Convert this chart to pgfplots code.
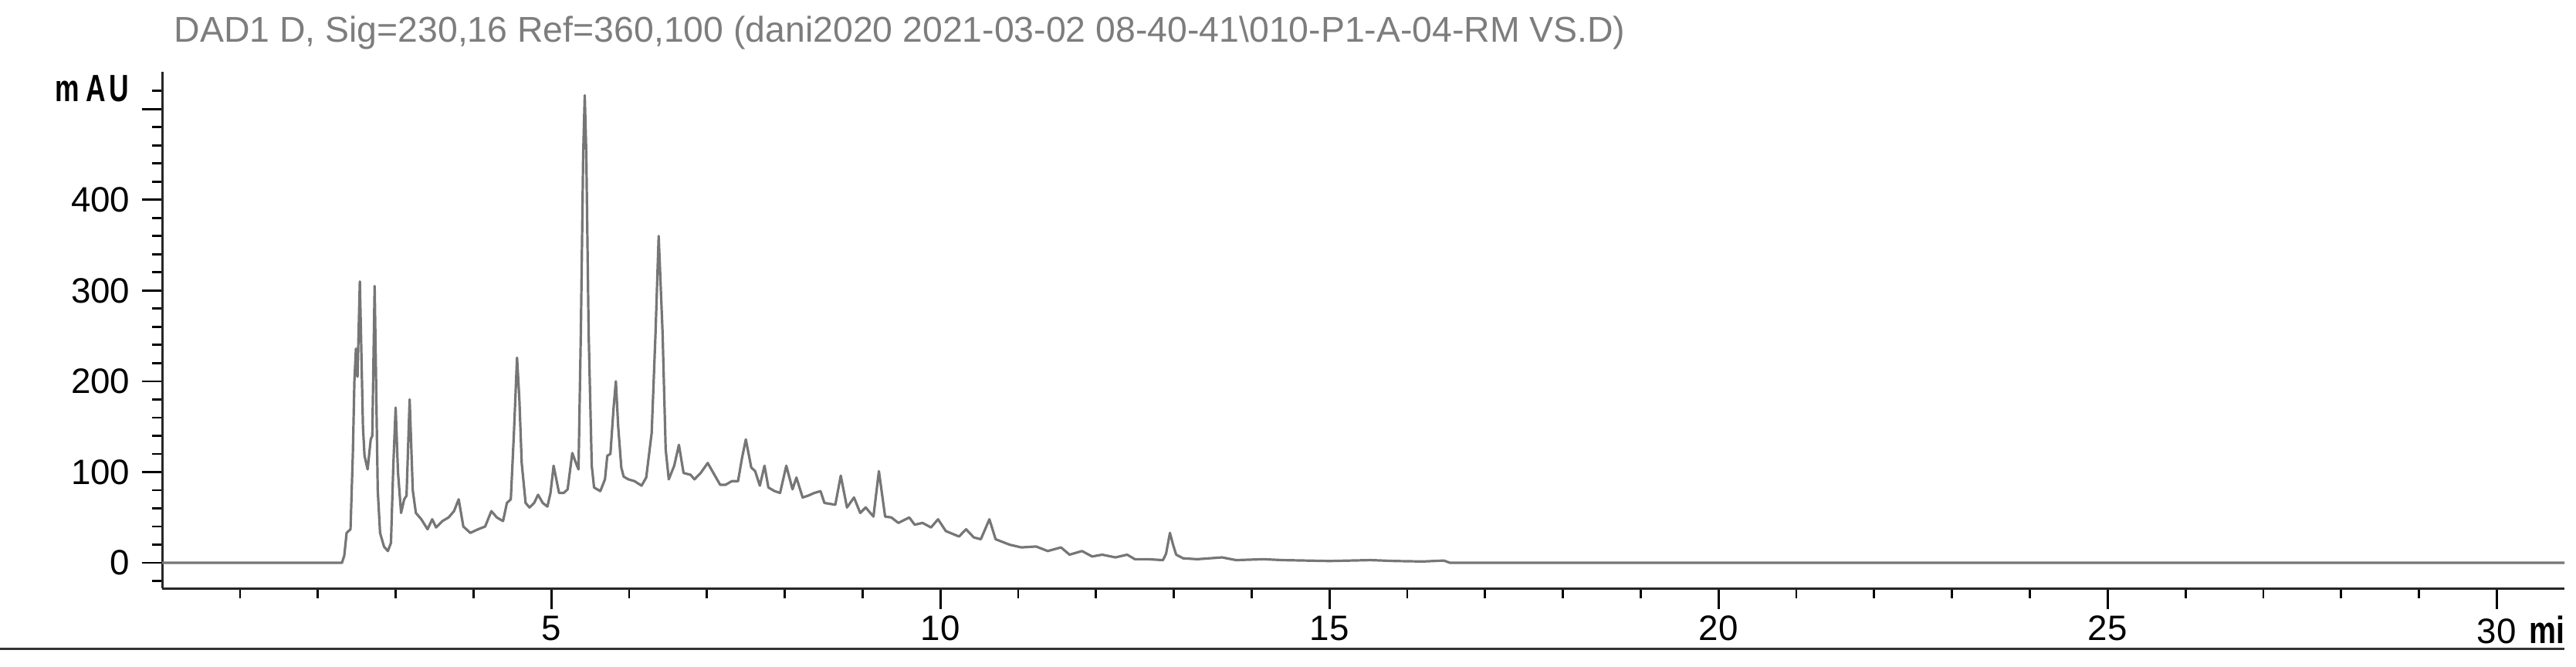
\documentclass[border=0pt]{standalone}
\usepackage{fontspec}
\setmainfont{Liberation Sans}
\usepackage{graphicx}
\usepackage{pgfplots}
\pgfplotsset{compat=1.18}

\definecolor{trace}{RGB}{118,118,118}
\definecolor{titlegray}{RGB}{125,125,125}

\newcommand{\lab}{\fontsize{13}{15}\selectfont}

\begin{document}
\begin{tikzpicture}
\useasboundingbox (0,0) rectangle (33.37,8.63);
\clip (0,0) rectangle (33.22,8.63);

% header line
\node[anchor=base west, inner sep=0pt, text=titlegray, font=\fontsize{13.2}{15}\selectfont]
  at (2.25,8.08) {DAD1 D, Sig=230,16 Ref=360,100 (dani2020 2021-03-02 08-40-41\textbackslash 010-P1-A-04-RM VS.D)};
% unit of the y axis
\node[anchor=base east, inner sep=0pt, font=\fontsize{14}{16}\selectfont\bfseries]
  at (1.68,7.313) {\scalebox{0.72}[1]{m\hspace{1.2mm}A\hspace{0.6mm}U}};

\begin{axis}[
  at={(2.101cm,1.01cm)}, anchor=south west,
  scale only axis, width=31.119cm, height=6.69cm,
  xmin=0, xmax=30.87, ymin=-28, ymax=541,
  axis lines*=left,
  axis line style={black!85, line width=0.3mm},
  tick style={black, line width=0.28mm},
  tick align=outside,
  major tick length=2.65mm, minor tick length=1.3mm,
  xtick={5,10,15,20,25,30},
  xticklabels={5,10,15,20,25,{30\rlap{\hspace{1.7mm}\fontsize{14}{16}\selectfont\bfseries\scalebox{0.8}[1]{min}}}},
  minor xtick={1,2,3,4,6,7,8,9,11,12,13,14,16,17,18,19,21,22,23,24,26,27,28,29},
  ytick={0,100,200,300,400,500},
  yticklabels={0,100,200,300,400,{}},
  minor ytick={-20,20,40,60,80,120,140,160,180,220,240,260,280,320,340,360,380,420,440,460,480,520},
  tick label style={font=\lab},
  /pgf/number format/assume math mode=true,
  yticklabel style={anchor=east, inner sep=0pt, xshift=-1.45mm},
  xticklabel style={anchor=north, inner sep=0pt, yshift=-0.85mm},
]
\addplot[trace, line width=0.32mm, line join=round] coordinates {
(0,0)(1.0,0)(2.0,0)(2.31,0)(2.34,8)(2.37,33)(2.42,37)(2.45,120)(2.47,200)(2.49,236)
(2.51,205)(2.54,310)(2.58,150)(2.60,118)(2.64,103)(2.68,136)(2.70,140)(2.73,305)(2.77,80)
(2.80,33)(2.85,18)(2.90,13)(2.94,22)(2.97,107)(3.00,171)(3.03,100)(3.07,55)(3.11,70)
(3.14,74)(3.18,180)(3.22,80)(3.26,55)(3.33,48)(3.41,37)(3.47,48)(3.52,39)(3.60,46)
(3.68,50)(3.75,57)(3.81,70)(3.87,40)(3.96,33)(4.06,37)(4.15,40)(4.23,57)(4.30,50)
(4.38,46)(4.43,66)(4.48,70)(4.52,143)(4.56,226)(4.59,180)(4.62,110)(4.67,66)(4.72,61)
(4.78,66)(4.83,75)(4.89,66)(4.95,62)(4.99,77)(5.03,107)(5.10,77)(5.16,77)(5.21,81)
(5.27,121)(5.33,107)(5.35,103)(5.38,254)(5.41,450)(5.43,515)(5.45,450)(5.48,254)
(5.52,107)(5.55,83)(5.63,79)(5.69,92)(5.72,118)(5.76,120)(5.80,170)(5.83,200)(5.86,150)
(5.90,105)(5.93,95)(5.99,92)(6.07,90)(6.16,85)(6.22,94)(6.29,143)(6.34,254)(6.38,360)
(6.43,254)(6.47,125)(6.51,92)(6.58,107)(6.64,130)(6.70,99)(6.79,97)(6.84,92)(6.92,99)
(7.01,110)(7.07,101)(7.17,86)(7.24,86)(7.32,90)(7.40,90)(7.45,115)(7.50,136)(7.57,105)
(7.62,101)(7.68,85)(7.74,107)(7.79,83)(7.87,79)(7.94,77)(8.02,107)(8.10,81)(8.15,94)
(8.23,72)(8.30,74)(8.38,77)(8.46,79)(8.51,66)(8.65,64)(8.72,96)(8.80,61)(8.89,72)
(8.97,55)(9.04,61)(9.14,51)(9.21,101)(9.29,51)(9.37,50)(9.46,44)(9.60,50)(9.67,42)
(9.77,44)(9.88,39)(9.97,48)(10.07,35)(10.24,29)(10.33,37)(10.43,28)(10.52,26)(10.63,48)
(10.71,26)(10.89,20)(11.04,17)(11.23,18)(11.38,13)(11.55,17)(11.66,9)(11.82,13)(11.95,7)
(12.08,9)(12.25,6)(12.40,9)(12.50,4)(12.67,4)(12.86,3)(12.90,10)(12.95,33)(12.99,20)
(13.03,9)(13.12,5)(13.3,4)(13.62,6)(13.8,3)(14.15,4)(14.4,3)(15.0,2)(15.53,3)(15.84,2)
(16.2,1.5)(16.47,2.5)(16.55,0)(30.87,0)
};
\end{axis}

% rule under the time scale
\draw[black!80, line width=0.3mm] (0,0.23) -- (33.22,0.23);
\end{tikzpicture}
\end{document}
